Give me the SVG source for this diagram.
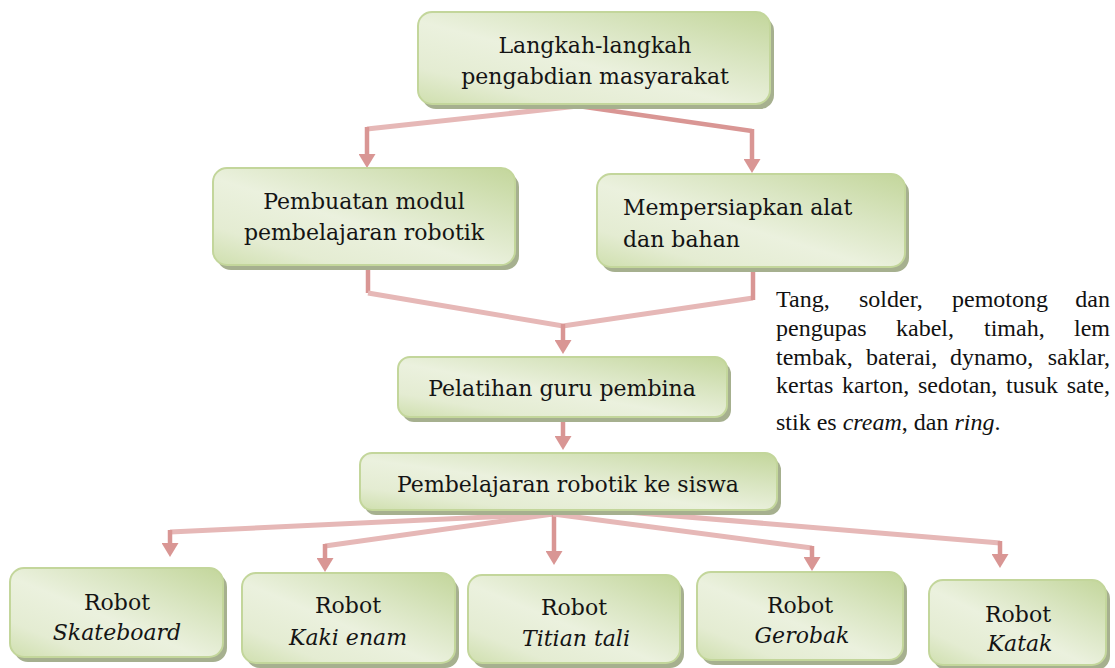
<svg xmlns="http://www.w3.org/2000/svg" width="1115" height="668" viewBox="0 0 1115 668">
<style>
.sh{fill:#a6b08f}
.bg{fill:url(#g);stroke:#c3d69b;stroke-width:2}
.t{font-family:"DejaVu Serif",serif;font-size:22px;fill:#141414}
.ti{font-family:"DejaVu Serif",serif;font-size:22px;font-style:italic;fill:#141414}
.side{font-family:"Liberation Serif","Times New Roman",serif;font-size:24px;fill:#111}
.lt{fill:none;stroke:#e6b8b7;stroke-width:5}
.dk{fill:none;stroke:#d99694;stroke-width:4.5}
.ar{fill:none;stroke:#d99694;stroke-width:4.5;marker-end:url(#ah)}
</style>
<defs>
<linearGradient id="g" x1="1" y1="0" x2="0" y2="1">
<stop offset="0" stop-color="#c3d69b"/>
<stop offset="0.3" stop-color="#d9e5c1"/>
<stop offset="0.55" stop-color="#ebf1de"/>
<stop offset="0.8" stop-color="#e4ecd2"/>
<stop offset="1" stop-color="#cfdfae"/>
</linearGradient>
<marker id="ah" markerUnits="userSpaceOnUse" viewBox="0 0 14 17" refX="4" refY="8.5" markerWidth="14" markerHeight="17" orient="auto">
<path d="M0,0 L14,8.5 L0,17 Z" fill="#d99694"/>
</marker>
</defs>

<g id="connectors">
<polyline class="lt" points="578,106 367,129"/>
<path class="ar" d="M367,127 V158"/>
<polyline class="dk" points="578,106 752,131"/>
<path class="ar" d="M752,129 V163"/>
<path class="dk" d="M368,265 V293"/>
<polyline class="lt" points="368,293 563,326 753,298"/>
<path class="dk" d="M753,268 V300"/>
<path class="ar" d="M563,324 V344"/>
<path class="ar" d="M563,418 V440"/>
<polyline class="lt" points="553,514 170,532"/>
<path class="ar" d="M170,530 V547"/>
<polyline class="lt" points="553,514 325,546"/>
<path class="ar" d="M325,544 V562"/>
<path class="ar" d="M554,512 V555"/>
<polyline class="lt" points="553,514 812,548"/>
<path class="ar" d="M812,546 V561"/>
<polyline class="lt" points="567,507 1000,543"/>
<path class="ar" d="M1000,541 V558"/>
</g>

<g id="n1">
<rect class="sh" x="422" y="17" width="352" height="92" rx="14"/>
<rect class="bg" x="418" y="12" width="352" height="92" rx="14"/>
<text class="t" x="595" y="53" text-anchor="middle">Langkah-langkah</text>
<text class="t" x="595" y="84" text-anchor="middle">pengabdian masyarakat</text>
</g>

<g id="n2">
<rect class="sh" x="217" y="173" width="302" height="97" rx="14"/>
<rect class="bg" x="213" y="168" width="302" height="97" rx="14"/>
<text class="t" x="364" y="209" text-anchor="middle">Pembuatan modul</text>
<text class="t" x="364" y="240" text-anchor="middle">pembelajaran robotik</text>
</g>

<g id="n3">
<rect class="sh" x="601" y="179" width="308" height="93" rx="14"/>
<rect class="bg" x="597" y="174" width="308" height="93" rx="14"/>
<text class="t" x="623" y="215">Mempersiapkan alat</text>
<text class="t" x="623" y="247">dan bahan</text>
</g>

<g id="n4">
<rect class="sh" x="402" y="362" width="329" height="60" rx="12"/>
<rect class="bg" x="398" y="357" width="329" height="60" rx="12"/>
<text class="t" x="562" y="396" text-anchor="middle">Pelatihan guru pembina</text>
</g>

<g id="n5">
<rect class="sh" x="364" y="458" width="417" height="57" rx="12"/>
<rect class="bg" x="360" y="453" width="417" height="57" rx="12"/>
<text class="t" x="568" y="492" text-anchor="middle">Pembelajaran robotik ke siswa</text>
</g>

<g id="n6">
<rect class="sh" x="14" y="573" width="213" height="89" rx="14"/>
<rect class="bg" x="10" y="568" width="213" height="89" rx="14"/>
<text class="t" x="117" y="610" text-anchor="middle">Robot</text>
<text class="ti" x="117" y="640" text-anchor="middle">Skateboard</text>
</g>

<g id="n7">
<rect class="sh" x="246" y="578" width="213" height="90" rx="14"/>
<rect class="bg" x="242" y="573" width="213" height="90" rx="14"/>
<text class="t" x="348" y="613" text-anchor="middle">Robot</text>
<text class="ti" x="348" y="645" text-anchor="middle">Kaki enam</text>
</g>

<g id="n8">
<rect class="sh" x="472" y="580" width="212" height="88" rx="14"/>
<rect class="bg" x="468" y="575" width="212" height="88" rx="14"/>
<text class="t" x="574" y="615" text-anchor="middle">Robot</text>
<text class="ti" x="576" y="646" text-anchor="middle">Titian tali</text>
</g>

<g id="n9">
<rect class="sh" x="701" y="577" width="206" height="88" rx="14"/>
<rect class="bg" x="697" y="572" width="206" height="88" rx="14"/>
<text class="t" x="800" y="613" text-anchor="middle">Robot</text>
<text class="ti" x="802" y="643" text-anchor="middle">Gerobak</text>
</g>

<g id="n10">
<rect class="sh" x="933" y="585" width="177" height="85" rx="14"/>
<rect class="bg" x="929" y="580" width="177" height="85" rx="14"/>
<text class="t" x="1018" y="622" text-anchor="middle">Robot</text>
<text class="ti" x="1020" y="651" text-anchor="middle">Katak</text>
</g>

<g id="note" class="side">
<text x="776" y="307">Tang,</text>
<text x="859" y="307">solder,</text>
<text x="952" y="307">pemotong</text>
<text x="1110" y="307" text-anchor="end">dan</text>
<text x="776" y="336">pengupas</text>
<text x="896" y="336">kabel,</text>
<text x="984" y="336">timah,</text>
<text x="1110" y="336" text-anchor="end">lem</text>
<text x="776" y="364.5">tembak,</text>
<text x="866" y="364.5">baterai,</text>
<text x="950" y="364.5">dynamo,</text>
<text x="1110" y="364.5" text-anchor="end">saklar,</text>
<text x="776" y="393">kertas</text>
<text x="842" y="393">karton,</text>
<text x="918" y="393">sedotan,</text>
<text x="1006" y="393">tusuk</text>
<text x="1110" y="393" text-anchor="end">sate,</text>
<text x="776" y="430">stik es <tspan font-style="italic">cream</tspan>, dan <tspan font-style="italic">ring</tspan>.</text>
</g>
</svg>
